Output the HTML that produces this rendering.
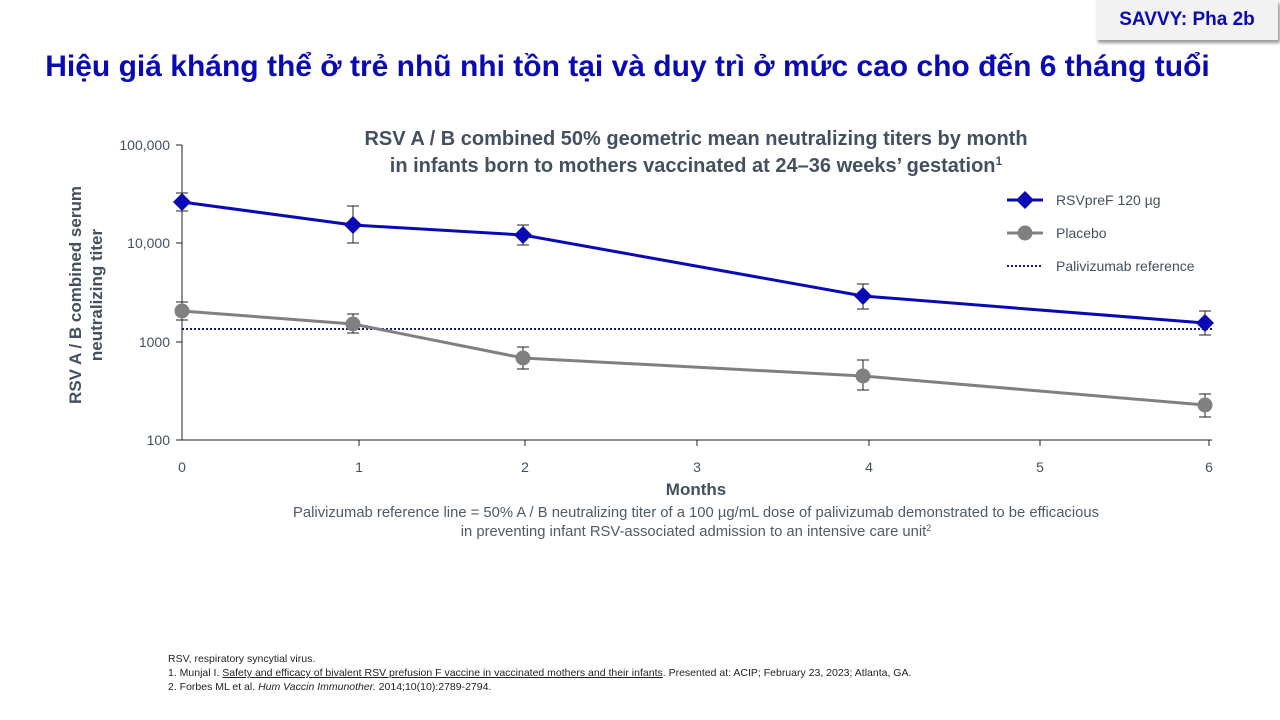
<!DOCTYPE html>
<html><head><meta charset="utf-8"><style>
body{margin:0;width:1280px;height:720px;background:#fff;font-family:"Liberation Sans",sans-serif;position:relative;overflow:hidden}
.badge{position:absolute;left:1096px;top:0;width:182px;height:40px;background:#f2f2f2;box-shadow:2px 3px 3px #999;color:#0a0ab4;font-weight:bold;font-size:19px;line-height:40px;text-align:center}
h1{position:absolute;left:0;width:1255px;text-align:center;top:50px;margin:0;font-size:30px;color:#0a0ab4;font-weight:bold;white-space:nowrap}
.fn{position:absolute;left:168px;top:652px;font-size:10.5px;line-height:14px;color:#222}
</style></head><body>
<div class="badge">SAVVY: Pha 2b</div>
<h1>Hiệu giá kháng thể ở trẻ nhũ nhi tồn tại và duy trì ở mức cao cho đến 6 tháng tuổi</h1>
<svg width="1280" height="720" style="position:absolute;left:0;top:0" font-family="Liberation Sans, sans-serif">
<g fill="#44505f" font-weight="bold" font-size="20" text-anchor="middle">
<text x="696" y="145">RSV A / B combined 50% geometric mean neutralizing titers by month</text>
<text x="696" y="172">in infants born to mothers vaccinated at 24–36 weeks’ gestation<tspan font-size="12" dy="-7">1</tspan></text>
</g>
<g stroke="#222" stroke-width="1"><line x1="182" y1="145" x2="182" y2="440"/><line x1="182" y1="440" x2="1212" y2="440"/>
<line x1="176" y1="145" x2="182" y2="145"/><line x1="176" y1="243" x2="182" y2="243"/><line x1="176" y1="342" x2="182" y2="342"/><line x1="176" y1="440" x2="182" y2="440"/>
<line x1="359" y1="440" x2="359" y2="446"/><line x1="525" y1="440" x2="525" y2="446"/><line x1="697" y1="440" x2="697" y2="446"/><line x1="869" y1="440" x2="869" y2="446"/><line x1="1040" y1="440" x2="1040" y2="446"/><line x1="1209" y1="440" x2="1209" y2="446"/></g>
<g fill="#44505f" font-size="14" text-anchor="end"><text x="170" y="150">100,000</text><text x="170" y="248">10,000</text><text x="170" y="347">1000</text><text x="170" y="445">100</text></g>
<g fill="#44505f" font-size="14" text-anchor="middle"><text x="182" y="472">0</text><text x="359" y="472">1</text><text x="525" y="472">2</text><text x="697" y="472">3</text><text x="869" y="472">4</text><text x="1040" y="472">5</text><text x="1209" y="472">6</text></g>
<text x="696" y="495" fill="#44505f" font-size="17" font-weight="bold" text-anchor="middle">Months</text>
<text transform="translate(81,295) rotate(-90)" fill="#44505f" font-size="17" font-weight="bold" text-anchor="middle">RSV A / B combined serum</text>
<text transform="translate(102,295) rotate(-90)" fill="#44505f" font-size="17" font-weight="bold" text-anchor="middle">neutralizing titer</text>
<line x1="182" y1="329" x2="1212" y2="329" stroke="#1a1a6e" stroke-width="2" stroke-dasharray="2,2"/>
<g stroke="#222" stroke-width="1" fill="none">
<path d="M182 193V211M176 193h12M176 211h12 M353 206V243M347 206h12M347 243h12 M523 225V245M517 225h12M517 245h12 M863 284V309M857 284h12M857 309h12 M1205 311V335M1199 311h12M1199 335h12"/>
<path d="M182 302V320M176 302h12M176 320h12 M353 314V333M347 314h12M347 333h12 M523 347V369M517 347h12M517 369h12 M863 360V390M857 360h12M857 390h12 M1205 394V417M1199 394h12M1199 417h12"/>
</g>
<polyline points="182,311 353,324 523,358 863,376 1205,405" fill="none" stroke="#808080" stroke-width="3"/>
<g fill="#808080"><circle cx="182" cy="311" r="7.5"/><circle cx="353" cy="324" r="7.5"/><circle cx="523" cy="358" r="7.5"/><circle cx="863" cy="376" r="7.5"/><circle cx="1205" cy="405" r="7.5"/></g>
<polyline points="182,202 353,225 523,235 863,296 1205,323" fill="none" stroke="#0a0ab4" stroke-width="3"/>
<g fill="#0a0ab4"><path d="M182 193l9 9-9 9-9-9z"/><path d="M353 216l9 9-9 9-9-9z"/><path d="M523 226l9 9-9 9-9-9z"/><path d="M863 287l9 9-9 9-9-9z"/><path d="M1205 314l9 9-9 9-9-9z"/></g>
<line x1="1007" y1="200" x2="1043" y2="200" stroke="#0a0ab4" stroke-width="3"/><path d="M1025 191l9 9-9 9-9-9z" fill="#0a0ab4"/>
<line x1="1007" y1="233" x2="1043" y2="233" stroke="#808080" stroke-width="3"/><circle cx="1025" cy="233" r="7.5" fill="#808080"/>
<line x1="1007" y1="266" x2="1043" y2="266" stroke="#1a1a6e" stroke-width="2" stroke-dasharray="2,2"/>
<g fill="#44505f" font-size="14"><text x="1056" y="205">RSVpreF 120 µg</text><text x="1056" y="238">Placebo</text><text x="1056" y="271">Palivizumab reference</text></g>
<g fill="#505a66" font-size="14.8" text-anchor="middle"><text x="696" y="517">Palivizumab reference line = 50% A / B neutralizing titer of a 100 µg/mL dose of palivizumab demonstrated to be efficacious</text><text x="696" y="536">in preventing infant RSV-associated admission to an intensive care unit<tspan font-size="9" dy="-5">2</tspan></text></g>
</svg>
<div class="fn">RSV, respiratory syncytial virus.<br>1. Munjal I. <u>Safety and efficacy of bivalent RSV prefusion F vaccine in vaccinated mothers and their infants</u>. Presented at: ACIP; February 23, 2023; Atlanta, GA.<br>2. Forbes ML et al. <i>Hum Vaccin Immunother.</i> 2014;10(10):2789-2794.</div>
</body></html>
